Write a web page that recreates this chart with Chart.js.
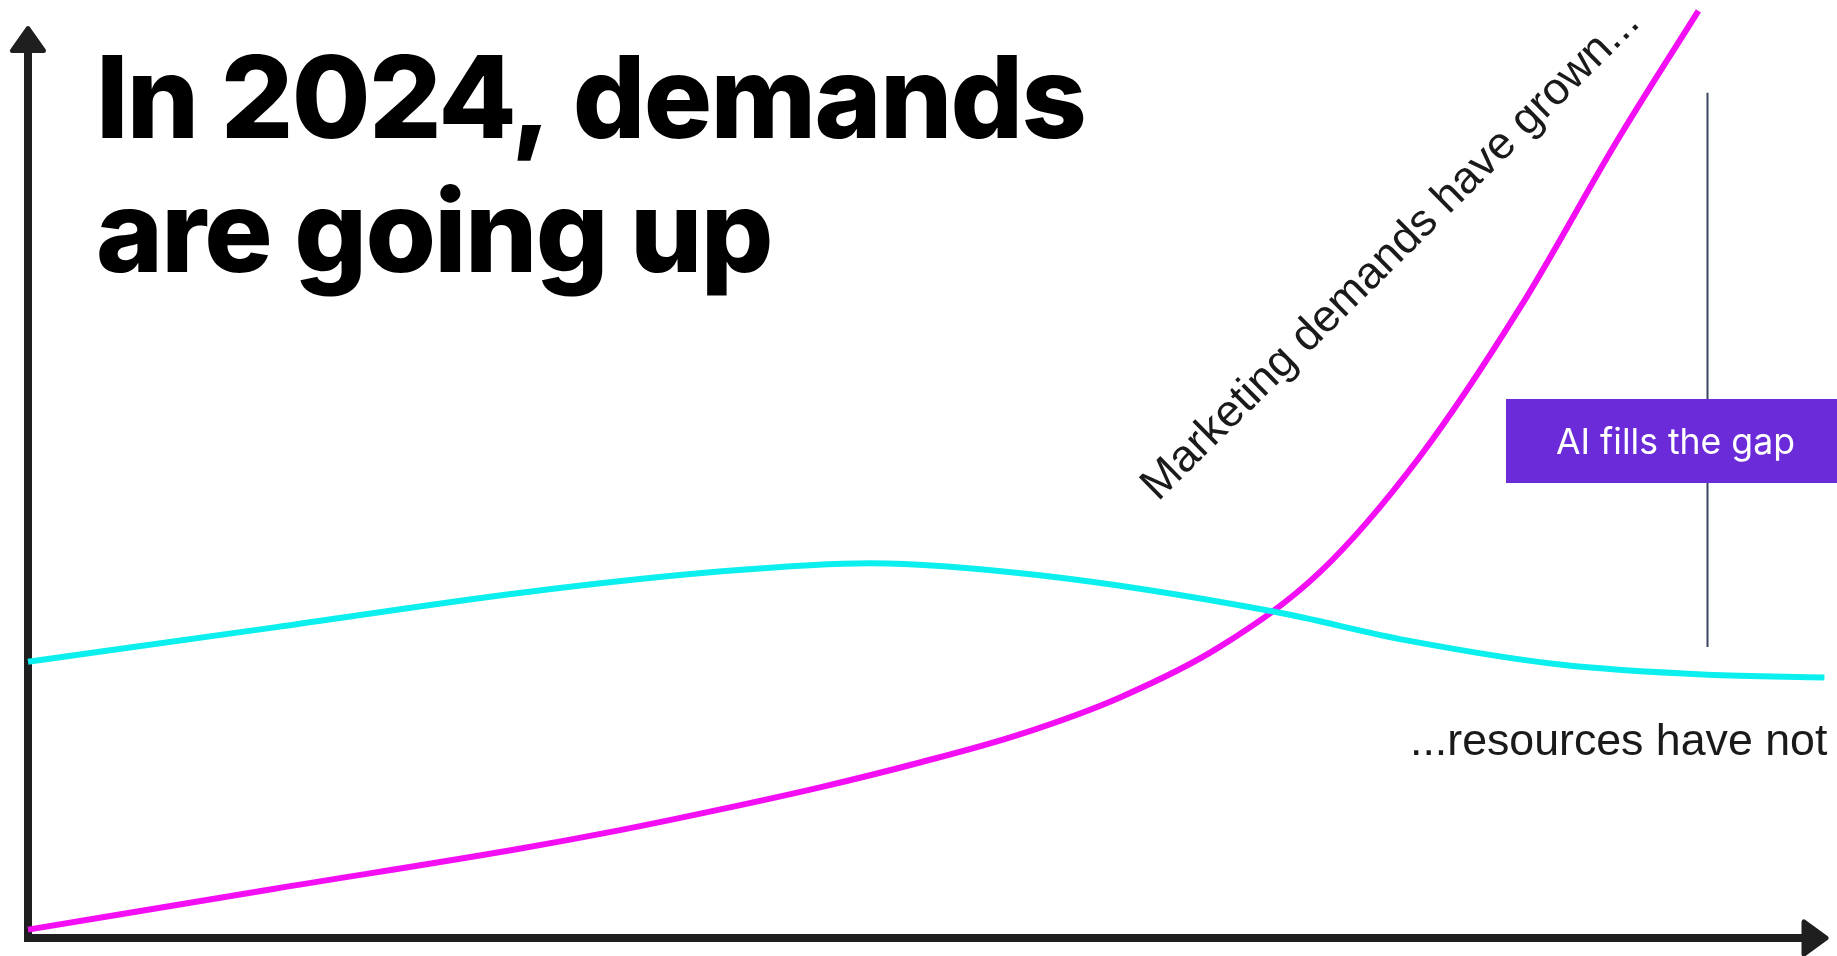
<!DOCTYPE html>
<html>
<head>
<meta charset="utf-8">
<title>In 2024, demands are going up</title>
<script src="https://cdn.jsdelivr.net/npm/chart.js@4.4.1/dist/chart.umd.min.js"></script>
<style>
    html, body { margin: 0; padding: 0; background: #fff; overflow: hidden; }
    canvas { display: block; }
</style>
</head>
<body>
<canvas id="graf" width="1837" height="956"></canvas>
<script>
// hodnoty, obě osy 0-100
const poptavkaX = [0, 13.7, 27.3, 32.9, 38.4, 44.0, 49.6, 55.1, 60.7, 66.2, 71.8, 77.3, 82.9, 88.4, 92.8];
const poptavkaY = [0.9, 5.3, 9.6, 11.6, 13.8, 16.2, 18.9, 21.9, 25.9, 31.3, 39.4, 51.7, 67.8, 86.1, 99.7];
const zdrojeX = [0, 13.7, 27.3, 38.4, 46.8, 56.2, 69.2, 76.6, 85.1, 93.3, 99.8];
const zdrojeY = [29.7, 33.4, 37.1, 39.4, 40.3, 39.0, 35.1, 32.0, 29.4, 28.3, 28.0];
const mezeraX = 93.3;
const mezeraRozsah = [31.3, 90.9];

const nadpis = ["In 2024, demands", "are going up"];
const popisPoptavka = "Marketing demands have grown...";
const popisZdroje = "...resources have not";
const popisMezera = "AI fills the gap";

const PISMO = "'Liberation Sans', Arial, sans-serif";
const PISMO_NADPIS = "Inter, 'Noto Sans', sans-serif";

function nastavPismo(ctx, text, vaha, sirka, rodina) {
    ctx.font = vaha + " 100px " + rodina;
    const velikost = 100 * sirka / ctx.measureText(text).width;
    ctx.font = vaha + " " + velikost.toFixed(1) + "px " + rodina;
    return velikost;
}

const kresba = {
    id: "kresba",
    beforeDatasetsDraw(chart) {
        const { ctx, scales: { x, y } } = chart;
        const x0 = x.getPixelForValue(0), y0 = y.getPixelForValue(0);
        const yVrch = y.getPixelForValue(98), xKonec = x.getPixelForValue(100);
        ctx.save();
        ctx.strokeStyle = "#1f1f1f";
        ctx.fillStyle = "#1f1f1f";
        ctx.lineWidth = 8;
        ctx.lineJoin = "miter";
        ctx.beginPath();
        ctx.moveTo(x0, yVrch + 20);
        ctx.lineTo(x0, y0);
        ctx.lineTo(xKonec - 20, y0);
        ctx.stroke();
        // šipky
        ctx.lineWidth = 5;
        ctx.lineJoin = "round";
        ctx.beginPath();
        ctx.moveTo(x0, yVrch + 2);
        ctx.lineTo(x0 - 15.5, yVrch + 24);
        ctx.lineTo(x0 + 15.5, yVrch + 24);
        ctx.closePath();
        ctx.fill(); ctx.stroke();
        ctx.beginPath();
        ctx.moveTo(xKonec - 2, y0);
        ctx.lineTo(xKonec - 24, y0 - 16);
        ctx.lineTo(xKonec - 24, y0 + 16);
        ctx.closePath();
        ctx.fill(); ctx.stroke();
        ctx.restore();
    },
    afterDatasetsDraw(chart) {
        const { ctx, scales: { x, y } } = chart;
        ctx.save();

        // svislá čára mezery
        const gx = Math.round(x.getPixelForValue(mezeraX)) + 0.5;
        ctx.strokeStyle = "#3b4461";
        ctx.lineWidth = 2;
        ctx.beginPath();
        ctx.moveTo(gx, y.getPixelForValue(mezeraRozsah[1]));
        ctx.lineTo(gx, y.getPixelForValue(mezeraRozsah[0]));
        ctx.stroke();

        // fialový štítek
        ctx.fillStyle = "#6c2bd9";
        ctx.fillRect(1506, 399, chart.width - 1506, 84);
        ctx.fillStyle = "#ffffff";
        ctx.textAlign = "left";
        ctx.textBaseline = "alphabetic";
        nastavPismo(ctx, popisMezera, "400", 239, PISMO_NADPIS);
        ctx.fillText(popisMezera, 1556, 454);

        // popisky čar
        ctx.fillStyle = "#1a1a1a";
        nastavPismo(ctx, popisZdroje, "400", 417, PISMO);
        ctx.fillText(popisZdroje, 1410, 755);

        ctx.save();
        ctx.translate(1158, 502);
        ctx.rotate(-Math.atan2(475, 481));
        nastavPismo(ctx, popisPoptavka, "400", 680, PISMO);
        ctx.fillText(popisPoptavka, 0, 0);
        ctx.restore();

        // nadpis
        ctx.fillStyle = "#000000";
        ctx.font = "800 114px " + PISMO_NADPIS;
        const w = ctx.measureText(nadpis[0]).width;
        if ("letterSpacing" in ctx) {
            ctx.letterSpacing = ((991 - w) / (nadpis[0].length - 1)).toFixed(2) + "px";
        }
        ctx.fillText(nadpis[0], 96, 138);
        ctx.fillText(nadpis[1], 96, 272);
        ctx.restore();
    }
};

const ctx = document.getElementById("graf").getContext("2d");
new Chart(ctx, {
    type: "line",
    data: {
        datasets: [
            {
                label: "Resources",
                data: zdrojeX.map((v, i) => ({ x: v, y: zdrojeY[i] })),
                borderColor: "#0befee",
                borderWidth: 6,
                pointRadius: 0,
                cubicInterpolationMode: "monotone",
                clip: false
            },
            {
                label: "Marketing demands",
                data: poptavkaX.map((v, i) => ({ x: v, y: poptavkaY[i] })),
                borderColor: "#f30ef3",
                borderWidth: 6,
                pointRadius: 0,
                cubicInterpolationMode: "monotone",
                clip: false
            }
        ]
    },
    options: {
        responsive: false,
        animation: false,
        devicePixelRatio: 1,
        events: [],
        layout: { padding: { left: 28, right: 9, top: 8, bottom: 18 } },
        scales: {
            x: { type: "linear", min: 0, max: 100, display: false },
            y: { min: 0, max: 100, display: false }
        },
        plugins: { legend: { display: false }, tooltip: { enabled: false } }
    },
    plugins: [kresba]
});
</script>
</body>
</html>
